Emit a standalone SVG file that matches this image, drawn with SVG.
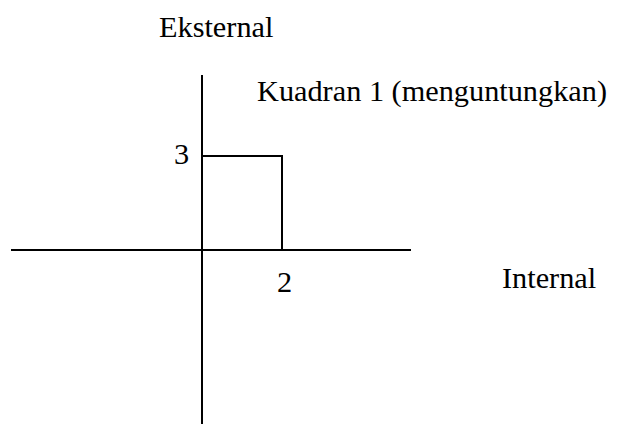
<svg xmlns="http://www.w3.org/2000/svg" width="625" height="424" viewBox="0 0 625 424">
<style>
text{font-family:"Liberation Serif","Times New Roman",serif;font-size:30.3px;fill:#000}
.ln{stroke:#000;stroke-width:2;fill:none}
</style>
<rect width="625" height="424" fill="#fff"/>
<g id="connectors">
<line class="ln" x1="202" y1="75" x2="202" y2="424"/>
<line class="ln" x1="11" y1="250" x2="411" y2="250"/>
<polyline class="ln" points="202,156 282,156 282,250"/>
</g>
<g id="label-eksternal"><text x="159" y="37">Eksternal</text></g>
<g id="label-kuadran"><text x="257" y="101">Kuadran 1 (menguntungkan)</text></g>
<g id="label-3"><text x="174" y="164">3</text></g>
<g id="label-2"><text x="277" y="292">2</text></g>
<g id="label-internal"><text x="502" y="288">Internal</text></g>
</svg>
